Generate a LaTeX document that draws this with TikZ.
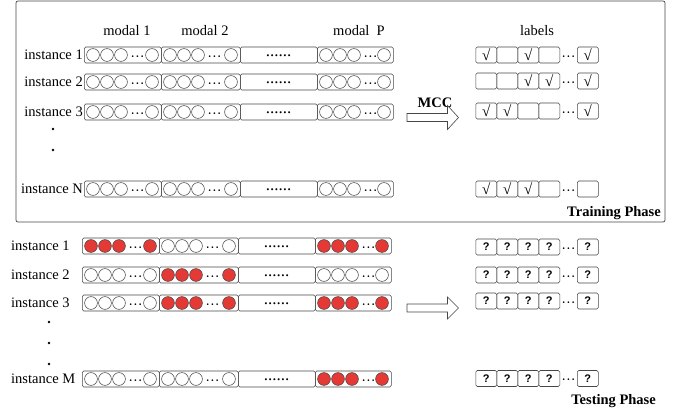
\documentclass[tikz,border=0pt]{standalone}
\usepackage{fontspec}
\setmainfont{Liberation Serif}
\newfontfamily\qfont{Liberation Sans}
\definecolor{cred}{RGB}{229,57,53}
\definecolor{lgray}{RGB}{70,70,70}
\tikzset{
  seg/.style={draw=lgray, rounded corners=1.5pt, line width=0.6pt, minimum height=16pt, inner sep=0pt, anchor=west},
  lbox/.style={draw=lgray, rounded corners=1.5pt, line width=0.6pt, minimum height=16pt, minimum width=21pt, inner sep=0pt, anchor=west},
  circ/.style={draw=lgray, line width=0.55pt},
  hdr/.style={inner sep=0pt},
  hollow/.style={draw=lgray, line width=0.6pt, fill=white},
}
\newcommand\mydots{···}
% one modality block: #1 name, #2 x start, #3 y, #4 width, #5 fill
\newcommand\mymodal[5]{%
  \node[hdr] (#1-d) at ({#2+53.5},{#3+3.5}) {\mydots};
  \node[seg, minimum width=#4pt] (#1) at (#2,#3) {};
  \draw[circ, fill=#5] ({#2+9},#3) circle (6.4);
  \draw[circ, fill=#5] ({#2+23},#3) circle (6.4);
  \draw[circ, fill=#5] ({#2+37},#3) circle (6.4);
  \draw[circ, fill=#5] ({#2+#4-9},#3) circle (6.4);
}
% a row of modalities: #1 name, #2 x0, #3 y, #4 #5 #6 fills
\newcommand\myrow[6]{%
  \mymodal{#1a}{#2}{#3}{77}{#4}
  \mymodal{#1b}{#2+77}{#3}{79}{#5}
  \node[seg, minimum width=77pt] (#1c) at ({#2+156},#3) {};
  \node[hdr] (#1cd) at ({#2+194.5},{#3+1}) {\fontsize{17}{17}\selectfont ......};
  \mymodal{#1e}{#2+233}{#3}{76}{#6}
}
\newcommand\chk{{\fontsize{15}{15}\selectfont √}}
\newcommand\qm{{\qfont\bfseries\fontsize{11}{11}\selectfont ?}}
% label boxes: #1 name, #2 y, #3..#7 contents
\newcommand\mylab[7]{%
  \node[lbox] (#1a) at (475.5,#2) {#3};
  \node[lbox] (#1b) at (496.5,#2) {#4};
  \node[lbox] (#1c) at (517.5,#2) {#5};
  \node[lbox] (#1d) at (538.5,#2) {#6};
  \node[hdr] (#1x) at (568.5,{#2+3.5}) {\mydots};
  \node[lbox] (#1e) at (577,#2) {#7};
}
\begin{document}
\begin{tikzpicture}[x=1pt,y=-1pt,font=\fontsize{14.5}{17}\selectfont]
\useasboundingbox (0,0) rectangle (677,413);
% training frame
\draw[rounded corners=2pt, line width=0.7pt, lgray] (16,1) rectangle (665,222);
% headers
\node[hdr] (h1) at (127,31) {modal 1};
\node[hdr] (h2) at (205,31) {modal 2};
\node[hdr] (hp) at (359,31) {modal\ \ P};
\node[hdr] (hl) at (537,31) {labels};
% training rows
\node[hdr, anchor=east] (ti1) at (83,55) {instance 1};
\node[hdr, anchor=east] (ti2) at (83,82) {instance 2};
\node[hdr, anchor=east] (ti3) at (83,112) {instance 3};
\node[hdr, anchor=east] (tiN) at (83,189) {instance N};
\myrow{tr1}{84}{55}{white}{white}{white}
\myrow{tr2}{84}{82}{white}{white}{white}
\myrow{tr3}{84}{112}{white}{white}{white}
\myrow{trN}{84}{189}{white}{white}{white}
\fill (53,129) circle (1.3) (53,150) circle (1.3);
\mylab{tl1}{55}{\chk}{}{\chk}{}{\chk}
\mylab{tl2}{81}{}{}{\chk}{\chk}{\chk}
\mylab{tl3}{111}{\chk}{\chk}{}{}{\chk}
\mylab{tlN}{189}{\chk}{\chk}{\chk}{}{}
% MCC arrow
\node[hdr, font=\fontsize{14.5}{17}\selectfont\bfseries] (mcc) at (435,103) {MCC};
\draw[hollow] (407,113.5) -- (447.5,113.5) -- (447.5,105.5) -- (458.5,117.5) -- (447.5,129.5) -- (447.5,121.5) -- (407,121.5) -- cycle;
\node[hdr, anchor=east, font=\fontsize{14.5}{17}\selectfont\bfseries] (trp) at (661,213) {Training Phase};
% testing rows
\node[hdr, anchor=west] (si1) at (11,246) {instance 1};
\node[hdr, anchor=west] (si2) at (11,275) {instance 2};
\node[hdr, anchor=west] (si3) at (11,303) {instance 3};
\node[hdr, anchor=west] (siM) at (11,379) {instance M};
\myrow{te1}{82}{246}{cred}{white}{cred}
\myrow{te2}{82}{275}{white}{cred}{white}
\myrow{te3}{82}{303}{white}{cred}{cred}
\myrow{teM}{82}{379}{white}{white}{cred}
\fill (49,322) circle (1.3) (49,343) circle (1.3) (49,364) circle (1.3);
\mylab{sl1}{247}{\qm}{\qm}{\qm}{\qm}{\qm}
\mylab{sl2}{275}{\qm}{\qm}{\qm}{\qm}{\qm}
\mylab{sl3}{301}{\qm}{\qm}{\qm}{\qm}{\qm}
\mylab{slM}{378.5}{\qm}{\qm}{\qm}{\qm}{\qm}
\draw[hollow] (407,304) -- (447.5,304) -- (447.5,297) -- (458.5,308) -- (447.5,319) -- (447.5,312) -- (407,312) -- cycle;
\node[hdr, anchor=east, font=\fontsize{14.5}{17}\selectfont\bfseries] (tsp) at (656,401) {Testing Phase};
\end{tikzpicture}
\end{document}
